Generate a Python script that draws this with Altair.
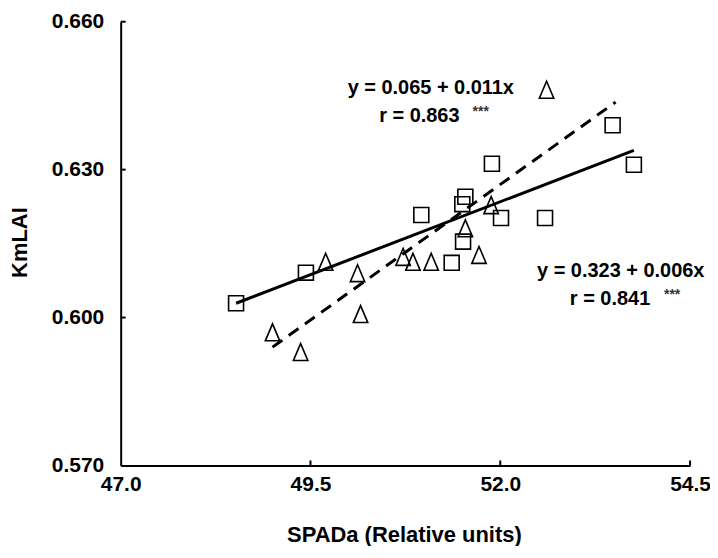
import altair as alt
import pandas as pd

# Squares series
sq_x = [48.52, 49.44, 50.96, 51.54, 51.50, 51.89, 52.01, 52.59, 51.51, 51.36, 53.48, 53.76]
sq_y = [0.6029, 0.6091, 0.6208, 0.6245, 0.6230, 0.6312, 0.6202, 0.6202, 0.6154, 0.6111, 0.6390, 0.6310]
# Triangles series
tri_x = [52.61, 49.70, 50.12, 50.16, 49.00, 49.37, 50.72, 50.85, 51.09, 51.72, 51.54, 51.88]
tri_y = [0.6462, 0.6113, 0.6090, 0.6007, 0.5970, 0.5930, 0.6123, 0.6113, 0.6113, 0.6127, 0.6181, 0.6228]
# Regression lines (end points)
solid_x = [48.52, 53.76]
solid_y = [0.6029, 0.6339]
dash_x = [49.0, 53.52]
dash_y = [0.5940, 0.6437]
# Axis ticks
x_ticks = [47.0, 49.5, 52.0, 54.5]
y_ticks = [0.570, 0.600, 0.630, 0.660]
# Annotations
ann_text = ["y = 0.065 + 0.011x", "r = 0.863", "y = 0.323 + 0.006x", "r = 0.841"]
ann_x = [51.085, 50.934, 53.587, 53.446]
ann_y = [0.6465, 0.6408, 0.6095, 0.6038]
star_text = ["***", "***"]
star_x = [51.742, 54.264]
star_y = [0.6416, 0.6046]

FONT = "Liberation Sans"

xs = alt.Scale(domain=[47.0, 54.5], nice=False, zero=False)
ys = alt.Scale(domain=[0.570, 0.660], nice=False, zero=False)

W, H = 571, 445
TRI = "M0,-1L0.85,1L-0.85,1Z"

x_axis = alt.Axis(values=x_ticks, format=".1f", title="SPADa (Relative units)",
                  grid=False, ticks=False, tickSize=0, domainColor="black", domainWidth=2,
                  labelFont=FONT, labelFontSize=21, labelFontWeight="bold", labelColor="black",
                  labelPadding=8, labelFlush=False, labelOverlap=False,
                  titleFont=FONT, titleFontSize=22, titleFontWeight="bold", titleColor="black",
                  titleX=284, titleY=69, titleBaseline="middle", titleAlign="center")
y_axis = alt.Axis(values=y_ticks, format=".3f", title="KmLAI",
                  grid=False, ticks=False, tickSize=0, domainColor="black", domainWidth=2,
                  labelFont=FONT, labelFontSize=21, labelFontWeight="bold", labelColor="black",
                  labelPadding=17, labelFlush=False, labelOverlap=False,
                  titleFont=FONT, titleFontSize=22, titleFontWeight="bold", titleColor="black",
                  titleX=-101, titleY=221, titleAngle=-90, titleBaseline="middle", titleAlign="center")

sq_df = pd.DataFrame({"x": sq_x, "y": sq_y})
tri_df = pd.DataFrame({"x": tri_x, "y": tri_y})
solid_df = pd.DataFrame({"x": solid_x, "y": solid_y})
dash_df = pd.DataFrame({"x": dash_x, "y": dash_y})
ann_df = pd.DataFrame({"x": ann_x, "y": ann_y, "t": ann_text})
star_df = pd.DataFrame({"x": star_x, "y": star_y, "t": star_text})
xt_df = pd.DataFrame({"v": x_ticks[1:]})
yt_df = pd.DataFrame({"v": y_ticks[1:]})

axes = alt.Chart(sq_df).mark_point(opacity=0).encode(
    x=alt.X("x:Q", scale=xs, axis=x_axis),
    y=alt.Y("y:Q", scale=ys, axis=y_axis),
)

solid = alt.Chart(solid_df).mark_line(color="black", strokeWidth=3).encode(
    x=alt.X("x:Q", scale=xs), y=alt.Y("y:Q", scale=ys))
dashed = alt.Chart(dash_df).mark_line(color="black", strokeWidth=3, strokeDash=[12, 8]).encode(
    x=alt.X("x:Q", scale=xs), y=alt.Y("y:Q", scale=ys))

squares = alt.Chart(sq_df).mark_point(shape="square", size=225, filled=False,
                                      color="black", strokeWidth=1.6, opacity=1).encode(
    x=alt.X("x:Q", scale=xs), y=alt.Y("y:Q", scale=ys))
triangles = alt.Chart(tri_df).mark_point(shape=TRI, size=289, filled=False,
                                         color="black", strokeWidth=1.6, opacity=1).encode(
    x=alt.X("x:Q", scale=xs), y=alt.Y("y:Q", scale=ys))

ann = alt.Chart(ann_df).mark_text(font=FONT, fontSize=20, fontWeight="bold", color="black",
                                  align="center", baseline="middle").encode(
    x=alt.X("x:Q", scale=xs), y=alt.Y("y:Q", scale=ys), text="t:N")
stars = alt.Chart(star_df).mark_text(font=FONT, fontSize=14, fontWeight="bold", color="#333333",
                                     align="center", baseline="middle").encode(
    x=alt.X("x:Q", scale=xs), y=alt.Y("y:Q", scale=ys), text="t:N")

xticks = alt.Chart(xt_df).mark_rule(color="black", strokeWidth=2).encode(
    x=alt.X("v:Q", scale=xs), y=alt.value(H), y2=alt.value(H - 5))
yticks = alt.Chart(yt_df).mark_rule(color="black", strokeWidth=2).encode(
    y=alt.Y("v:Q", scale=ys), x=alt.value(0), x2=alt.value(5))

chart = alt.layer(axes, dashed, solid, squares, triangles, ann, stars, xticks, yticks).properties(
    width=W, height=H,
    autosize=alt.AutoSizeParams(type="none"),
    padding={"left": 113, "top": 13, "right": 20, "bottom": 80},
    background="white",
).configure_view(stroke=None)

chart.save("out.html", embed_options={"renderer": "svg", "actions": False})
